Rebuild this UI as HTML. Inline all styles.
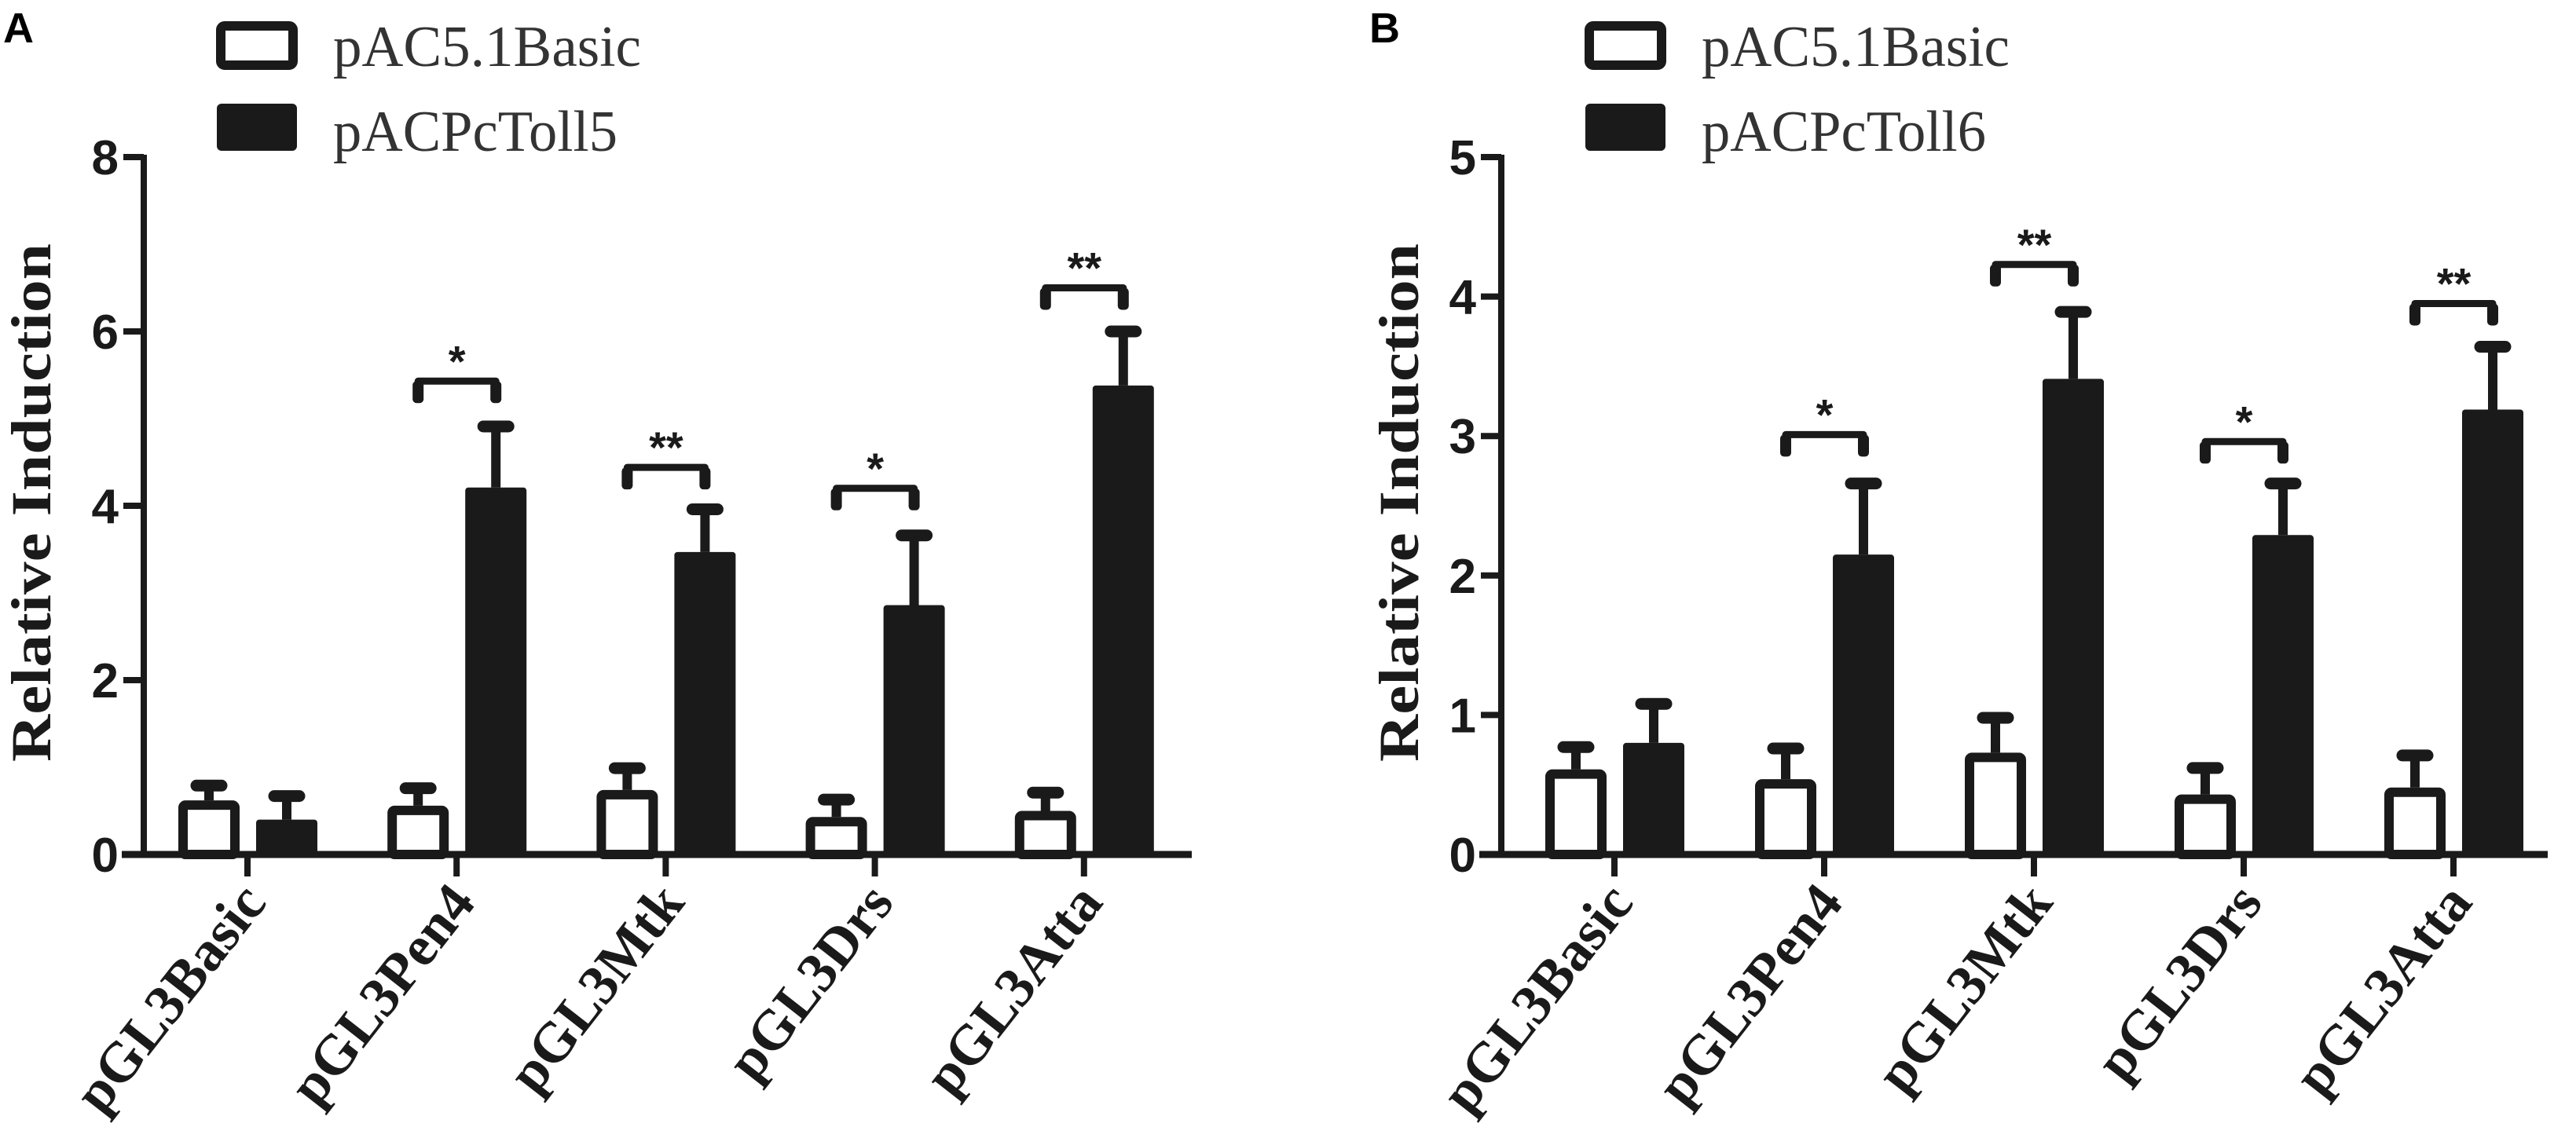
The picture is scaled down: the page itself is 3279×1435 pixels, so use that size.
<!DOCTYPE html>
<html><head><meta charset="utf-8"><style>
html,body{margin:0;padding:0;background:#fff;}
svg{display:block;}
</style></head><body>
<svg id="fig" width="3279" height="1435" viewBox="0 0 3279 1435" xmlns="http://www.w3.org/2000/svg"></svg>
<script>
const categories = ["pGL3Basic","pGL3Pen4","pGL3Mtk","pGL3Drs","pGL3Atta"];
const aWhite = [0.62,0.56,0.74,0.43,0.50];
const aWhiteErr = [0.17,0.2,0.25,0.2,0.21];
const aBlack = [0.40,4.21,3.47,2.86,5.38];
const aBlackErr = [0.27,0.70,0.49,0.80,0.62];
const aSig = [null,"*","**","*","**"];
const aSigLevel = [null,5.43,4.44,4.2,6.5];
const aTicks = [0,2,4,6,8];
const bWhite = [0.61,0.54,0.73,0.43,0.48];
const bWhiteErr = [0.16,0.22,0.25,0.19,0.23];
const bBlack = [0.80,2.15,3.41,2.29,3.19];
const bBlackErr = [0.28,0.51,0.48,0.37,0.45];
const bSig = [null,"*","**","*","**"];
const bSigLevel = [null,3.01,4.23,2.96,3.95];
const bTicks = [0,1,2,3,4,5];

const NS="http://www.w3.org/2000/svg";
const svg=document.getElementById('fig');
function mk(tag,attrs,parent,text){const e=document.createElementNS(NS,tag);for(const k in attrs)e.setAttribute(k,attrs[k]);if(text!==undefined)e.textContent=text;(parent||svg).appendChild(e);return e;}
const C="#1a1a1a";

function panel(cfg){
  const g=mk('g',{});
  
  
  const y0=1088, yTop=200;
  const yMax=cfg.ticks[cfg.ticks.length-1];
  const ys=v=>y0-(y0-yTop)*v/yMax;
  const xs=i=>cfg.firstTick+i*cfg.spacing;
  const lt=mk('text',{x:cfg.letterX,y:54,'font-family':'Liberation Sans, sans-serif','font-weight':'bold','font-size':54,fill:'#000'},g,cfg.letter);
  
  
  const lw=mk('rect',{x:cfg.legX+5,y:33,width:92,height:50,rx:5,fill:'#fff',stroke:C,'stroke-width':12},g);
  
  
  const lb=mk('rect',{x:cfg.legX,y:132,width:102,height:60,rx:6,fill:C},g);
  
  
  const t1=mk('text',{x:cfg.legX+148,y:84,'font-family':'Liberation Serif, serif','font-size':74,fill:'#333',textLength:392,lengthAdjust:'spacingAndGlyphs'},g,'pAC5.1Basic');
  
  
  const t2=mk('text',{x:cfg.legX+148,y:192,'font-family':'Liberation Serif, serif','font-size':74,fill:'#333',textLength:362,lengthAdjust:'spacingAndGlyphs'},g,cfg.series2);
  
  
  const yt=mk('text',{x:0,y:0,transform:`translate(${cfg.titleX},640) rotate(-90)`,'text-anchor':'middle','font-family':'Liberation Serif, serif','font-weight':'bold','font-size':72,fill:C,textLength:660,lengthAdjust:'spacingAndGlyphs'},g,'Relative Induction');
  
  
  const ya=mk('line',{x1:cfg.axisX,y1:yTop-3,x2:cfg.axisX,y2:y0+4,stroke:C,'stroke-width':8},g);
  
  
  const xa=mk('line',{x1:cfg.axisX-28,y1:y0,x2:cfg.axisEnd,y2:y0,stroke:C,'stroke-width':9},g);
  
  
  cfg.ticks.forEach(v=>{
    const tk=mk('line',{x1:cfg.axisX-26,y1:ys(v),x2:cfg.axisX,y2:ys(v),stroke:C,'stroke-width':8},g);
    
    
    const tl=mk('text',{x:cfg.axisX-32,y:ys(v)+22,'text-anchor':'end','font-family':'Liberation Sans, sans-serif','font-weight':'bold','font-size':62,fill:C},g,String(v));
    
    
  });
  categories.forEach((c,i)=>{
    const cx=xs(i);
    const xt=mk('line',{x1:cx,y1:y0,x2:cx,y2:y0+28,stroke:C,'stroke-width':8},g);
    
    
    const xl=mk('text',{x:0,y:0,transform:`translate(${cx+26},${y0+62}) rotate(-52)`,'text-anchor':'end','font-family':'Liberation Serif, serif','font-weight':'bold','font-size':72,fill:C},g,c);
    
    
    const wc=cx-49, wv=cfg.white[i], we=wv+cfg.whiteErr[i];
    const ew=mk('line',{x1:wc,y1:ys(wv),x2:wc,y2:ys(we),stroke:C,'stroke-width':12},g);
    
    
    const cw=mk('line',{x1:wc-16,y1:ys(we),x2:wc+16,y2:ys(we),stroke:C,'stroke-width':15,'stroke-linecap':'round'},g);
    
    
    const bw=mk('rect',{x:wc-33,y:ys(wv)+6,width:66,height:Math.max(0,y0-ys(wv)-6),fill:'#fff',stroke:C,'stroke-width':12,rx:3},g);
    
    
    const bc=cx+50, bv=cfg.black[i], be=bv+cfg.blackErr[i];
    const eb=mk('line',{x1:bc,y1:ys(bv),x2:bc,y2:ys(be),stroke:C,'stroke-width':12},g);
    
    
    const cb=mk('line',{x1:bc-16,y1:ys(be),x2:bc+16,y2:ys(be),stroke:C,'stroke-width':15,'stroke-linecap':'round'},g);
    
    
    const bb=mk('rect',{x:bc-39,y:ys(bv),width:78,height:y0-ys(bv),fill:C,rx:4},g);
    
    
    if(cfg.sig[i]){
      const ly=ys(cfg.sigLevel[i]);
      const br=mk('path',{d:`M${wc},${ly+24} L${wc},${ly} L${bc},${ly} L${bc},${ly+24}`,fill:'none',stroke:C,'stroke-width':9,'stroke-linejoin':'round'},g);
      
      
      [wc,bc].forEach(lx=>{
        const leg=mk('rect',{x:lx-7,y:ly,width:14,height:28,rx:5,fill:C},g);
        
        
      });
      const st=mk('text',{x:(wc+bc)/2,y:ly-6,'text-anchor':'middle','font-family':'Liberation Sans, sans-serif','font-weight':'bold','font-size':56,fill:C},g,cfg.sig[i]);
      
      
    }
  });
}
panel({id:'a',letter:'A',letterX:4,legX:276,series2:'pACPcToll5',titleX:64,axisX:183,axisEnd:1517,firstTick:315,spacing:266.2,ticks:aTicks,white:aWhite,whiteErr:aWhiteErr,black:aBlack,blackErr:aBlackErr,sig:aSig,sigLevel:aSigLevel});
panel({id:'b',letter:'B',letterX:1743,legX:2018,series2:'pACPcToll6',titleX:1805,axisX:1911,axisEnd:3243,firstTick:2055,spacing:267,ticks:bTicks,white:bWhite,whiteErr:bWhiteErr,black:bBlack,blackErr:bBlackErr,sig:bSig,sigLevel:bSigLevel});
</script>
</body></html>
